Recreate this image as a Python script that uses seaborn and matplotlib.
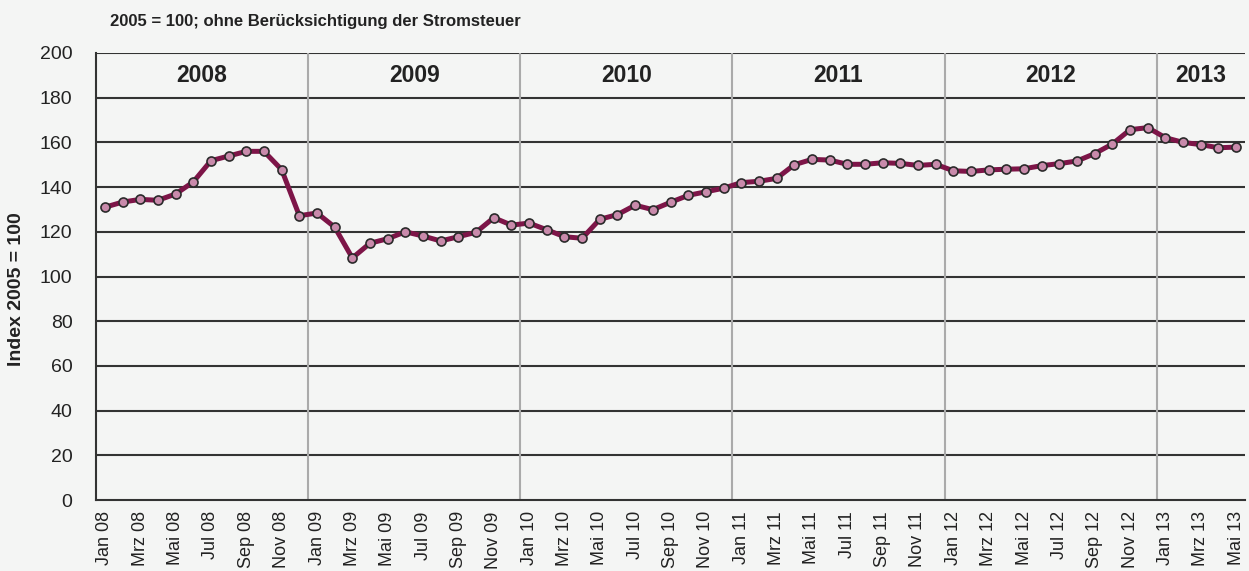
import numpy as np
import pandas as pd
import matplotlib
matplotlib.use("Agg")
import matplotlib.pyplot as plt
import seaborn as sns

monthNames = ["Jan", "Feb", "Mrz", "Apr", "Mai", "Jun", "Jul", "Aug", "Sep", "Okt", "Nov", "Dez"]
years = ["08", "09", "10", "11", "12", "13"]
yearLabels = ["2008", "2009", "2010", "2011", "2012", "2013"]
monthsPerYear = [12, 12, 12, 12, 12, 5]

# index values, Jan 08 .. Mai 13
values = [
    131.0, 133.3, 134.5, 134.1, 136.9, 142.3, 151.8, 153.9, 156.0, 156.0, 147.8, 127.2,
    128.4, 122.1, 108.3, 114.9, 116.9, 120.0, 118.1, 115.9, 117.8, 119.8, 126.3, 123.0,
    123.9, 120.9, 117.8, 117.1, 125.6, 127.7, 131.9, 129.9, 133.2, 136.3, 137.9, 139.5,
    142.0, 142.6, 143.9, 150.0, 152.4, 152.1, 150.2, 150.2, 150.9, 150.6, 149.7, 150.2,
    147.3, 147.0, 147.7, 148.0, 148.2, 149.6, 150.5, 151.7, 155.0, 159.3, 165.7, 166.6,
    162.1, 160.0, 159.0, 157.6, 157.9,
]

labels = []
for yr, n in zip(years, monthsPerYear):
    labels += [f"{m} {yr}" for m in monthNames[:n]]

df = pd.DataFrame({"month": labels, "index": values})

bg = "#F4F5F4"
sns.set_style("white")
plt.rcParams["font.family"] = ["Liberation Sans", "DejaVu Sans"]

fig = plt.figure(figsize=(12.49, 5.71), dpi=100, facecolor=bg)
ax = fig.add_axes([0.0769, 0.1243, 0.9199, 0.7829])
ax.set_facecolor(bg)

sns.lineplot(
    data=df, x="month", y="index", sort=False, ax=ax,
    color="#7D1548", linewidth=3.6, marker="o", markersize=6.5,
    markerfacecolor="#C98AAB", markeredgecolor="#2A2A2A", markeredgewidth=1.2,
    zorder=5,
)

n = len(labels)
ax.set_xlim(-0.5, n - 0.5)
ax.set_ylim(0, 200)
ax.set_yticks(np.arange(0, 201, 20))
for yv in np.arange(20, 201, 20):
    ax.axhline(yv, color="#333333", linewidth=1.5, zorder=1)

# year separators and labels
start = 0
for lab, cnt in zip(yearLabels, monthsPerYear):
    if start > 0:
        ax.axvline(start - 0.5, color="#AAAAAA", linewidth=1.5, zorder=2)
    ax.text(start - 0.5 + cnt / 2, 190, lab, ha="center", va="center",
            fontsize=16.5, fontweight="bold", color="#222222")
    start += cnt

ax.set_xticks(range(0, n, 2))
ax.set_xticklabels(labels[::2], rotation=90, fontsize=13, color="#222222")
ax.tick_params(axis="x", length=0, pad=8)
ax.tick_params(axis="y", length=0, pad=17, labelsize=14, labelcolor="#222222")

for side in ["top", "right"]:
    ax.spines[side].set_visible(False)
for side in ["left", "bottom"]:
    ax.spines[side].set_color("#333333")
    ax.spines[side].set_linewidth(1.5)

ax.set_xlabel("")
ax.set_ylabel("Index 2005 = 100", fontsize=14, fontweight="bold", color="#222222")
ax.yaxis.set_label_coords(-0.0615, 0.471)
fig.text(0.088, 0.963, "2005 = 100; ohne Berücksichtigung der Stromsteuer",
         fontsize=12, fontweight="bold", color="#222222", va="center", ha="left")

fig.savefig("out.png", dpi=100, facecolor=bg)
